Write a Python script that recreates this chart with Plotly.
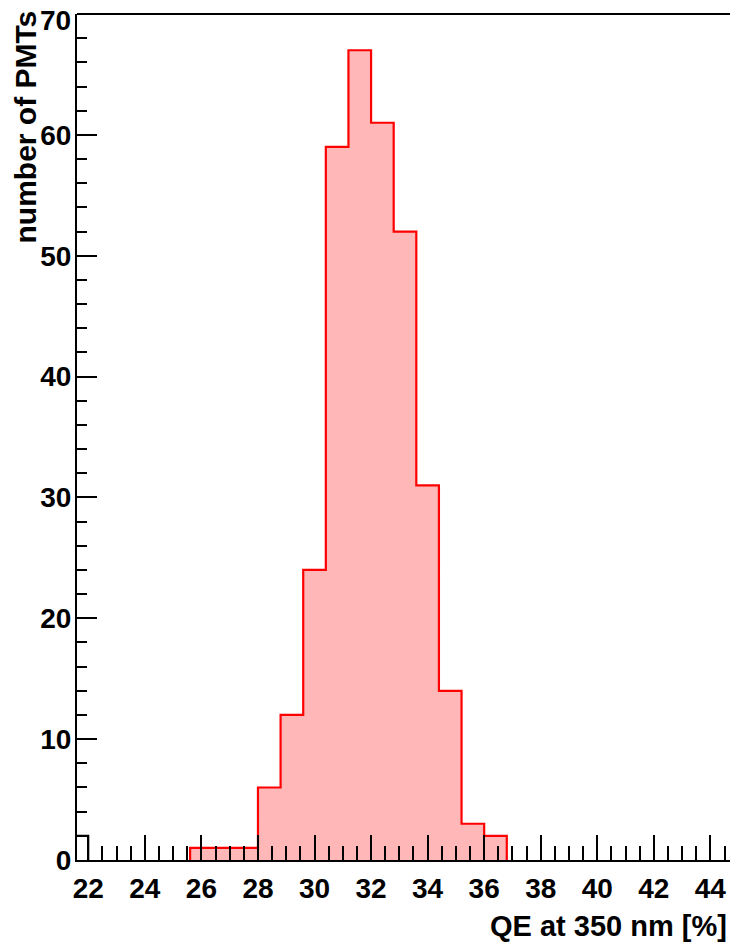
import plotly.graph_objects as go

# Histogram data (QE bins of width 0.8 %)
bin_edges = [25.6, 26.4, 27.2, 28.0, 28.8, 29.6, 30.4, 31.2, 32.0, 32.8, 33.6, 34.4, 35.2, 36.0, 36.8]
counts = [1, 1, 1, 6, 12, 24, 59, 67, 61, 52, 31, 14, 3, 2]

# small black histogram piece at the left edge
black_edges = [21.2, 22.0]
black_counts = [2]

x_tick_vals = [22, 24, 26, 28, 30, 32, 34, 36, 38, 40, 42, 44]
y_tick_vals = [0, 10, 20, 30, 40, 50, 60, 70]
y_tick_text = ["0", "10", "20", "30", "40", "50", "60", ""]
y_top_label = "70"


def step_xy(edges, vals):
    xs = [edges[0], edges[0]] + list(edges[1:])
    ys = [0] + list(vals) + [0]
    return xs, ys


hx, hy = step_xy(bin_edges, counts)
bx, by = step_xy(black_edges, black_counts)

fig = go.Figure()
fig.add_trace(go.Scatter(
    x=hx, y=hy, mode="lines", line=dict(shape="hv", color="#ff0000", width=2.2),
    fill="tozeroy", fillcolor="rgb(255,183,183)", hoverinfo="skip", showlegend=False))
fig.add_trace(go.Scatter(
    x=bx, y=by, mode="lines", line=dict(shape="hv", color="black", width=2),
    hoverinfo="skip", showlegend=False))

# page body has an 8px margin; compensate so the plot lands where the reference is
OFF = 8
W, H = 738 - OFF, 947 - OFF
L, R, T, B = 77 - OFF, 5, 14 - OFF, 87
pw = W - L - R
ph = H - T - B


def px_x(p):  # screen pixel -> paper x
    return (p - OFF - L) / pw


def px_y(p):  # screen pixel -> paper y
    return (T + ph - (p - OFF)) / ph


font_family = "Liberation Sans, Arial, sans-serif"

fig.update_layout(
    width=W, height=H,
    margin=dict(l=L, r=R, t=T, b=B, pad=0, autoexpand=False),
    plot_bgcolor="white", paper_bgcolor="white",
    font=dict(family=font_family, color="black"),
    xaxis=dict(
        range=[21.6, 44.8], tickvals=x_tick_vals, ticks="inside", ticklen=25, tickwidth=2,
        tickcolor="black", showline=True, linecolor="black", linewidth=2, showgrid=False,
        zeroline=False, tickfont=dict(size=28, family=font_family, color="black", weight="bold"),
        minor=dict(dtick=0.5, tick0=22, ticks="inside", ticklen=14, tickwidth=2, tickcolor="black", showgrid=False),
        ticklabelstandoff=2, automargin=False,
    ),
    yaxis=dict(
        range=[0, 70], tickvals=y_tick_vals, ticktext=y_tick_text, ticks="inside", ticklen=20, tickwidth=2,
        tickcolor="black", showline=True, linecolor="black", linewidth=2, showgrid=False,
        zeroline=False, tickfont=dict(size=28, family=font_family, color="black", weight="bold"),
        minor=dict(dtick=2, ticks="inside", ticklen=10, tickwidth=2, tickcolor="black", showgrid=False),
        ticklabelstandoff=-2, automargin=False, ticklabeloverflow="allow",
    ),
    shapes=[
        dict(type="line", xref="paper", yref="paper", x0=0, x1=px_x(737), y0=1, y1=1,
             line=dict(color="black", width=2)),
        dict(type="line", xref="paper", yref="paper", x0=px_x(736), x1=px_x(736), y0=1, y1=0,
             line=dict(color="black", width=2)),
        dict(type="line", xref="paper", yref="paper", x0=1, x1=1, y0=1, y1=0,
             line=dict(color="rgb(255,170,170)", width=2)),
    ],
    annotations=[
        dict(text=y_top_label, xref="paper", yref="paper",
             x=px_x(73), y=px_y(21), xanchor="right", yanchor="middle",
             showarrow=False, font=dict(size=28, family=font_family, color="black", weight="bold")),
        dict(text="QE at 350 nm [%]", xref="paper", yref="paper",
             x=px_x(729), y=px_y(926), xanchor="right", yanchor="middle",
             showarrow=False, font=dict(size=29, family=font_family, color="black", weight="bold")),
        dict(text="number of PMTs", xref="paper", yref="paper", textangle=-90,
             x=px_x(25), y=px_y(9), xanchor="center", yanchor="top",
             showarrow=False, font=dict(size=30, family=font_family, color="black", weight="bold")),
    ],
)

fig.write_html("out.html")
